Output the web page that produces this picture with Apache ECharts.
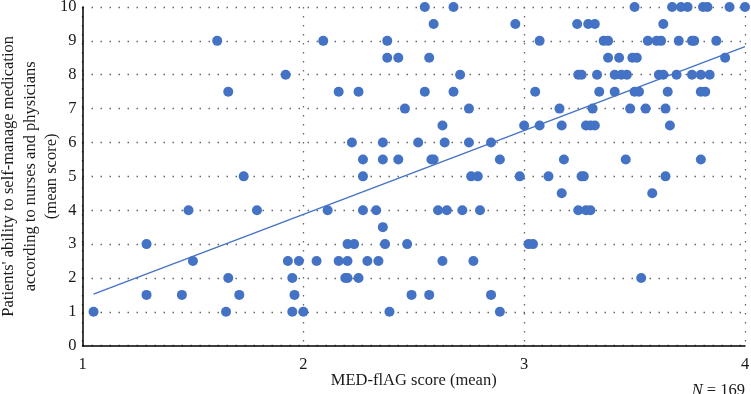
<!DOCTYPE html>
<html>
<head>
<meta charset="utf-8">
<script src="https://cdn.jsdelivr.net/npm/echarts@6/dist/echarts.min.js"></script>
<style>
html,body{margin:0;padding:0;background:#fff;}
#chart{width:751px;height:394px;}
</style>
</head>
<body>
<div id="chart"></div>
<script>
// Observations grouped by y value (mean score); x = MED-flAG score (mean)
var rowY = [10, 9.5, 9, 8.5, 8, 7.5, 7, 6.5, 6, 5.5, 5, 4.5, 4, 3.5, 3, 2.5, 2, 1.5, 1];
var rowX = [
  [2.55, 2.68, 3.50, 3.67, 3.71, 3.74, 3.81, 3.83, 3.93, 4.0],
  [2.59, 2.96, 3.24, 3.29, 3.32, 3.63],
  [1.61, 2.09, 2.38, 3.07, 3.36, 3.38, 3.56, 3.60, 3.62, 3.70, 3.76, 3.77, 3.87],
  [2.38, 2.43, 2.57, 3.38, 3.43, 3.49, 3.51, 3.91],
  [1.92, 2.71, 3.245, 3.26, 3.33, 3.41, 3.44, 3.465, 3.61, 3.63, 3.69, 3.76, 3.80, 3.84],
  [1.66, 2.16, 2.25, 2.55, 2.68, 3.05, 3.34, 3.41, 3.50, 3.52, 3.65, 3.80, 3.82],
  [2.46, 2.75, 3.16, 3.31, 3.48, 3.55, 3.64],
  [2.63, 3.00, 3.07, 3.17, 3.28, 3.30, 3.32, 3.66],
  [2.22, 2.36, 2.52, 2.64, 2.75, 2.85],
  [2.27, 2.36, 2.43, 2.58, 2.59, 2.89, 3.18, 3.46, 3.80],
  [1.73, 2.27, 2.76, 2.79, 2.98, 3.11, 3.26, 3.27, 3.64],
  [3.17, 3.58],
  [1.48, 1.79, 2.11, 2.27, 2.33, 2.61, 2.65, 2.72, 2.80, 3.245, 3.28, 3.30],
  [2.36],
  [1.29, 2.20, 2.23, 2.37, 2.47, 3.02, 3.04],
  [1.50, 1.93, 1.98, 2.06, 2.16, 2.20, 2.29, 2.34, 2.63, 2.77],
  [1.66, 1.95, 2.19, 2.20, 2.25, 3.53],
  [1.29, 1.45, 1.71, 1.96, 2.49, 2.57, 2.85],
  [1.05, 1.65, 1.95, 2.00, 2.39, 2.89]
];
// Linear trend line end points
var trendX = [1.05, 4.0];
var trendY = [1.52, 8.83];
var xTicks = [1, 2, 3, 4];
var yTicks = [0, 1, 2, 3, 4, 5, 6, 7, 8, 9, 10];
var sampleN = 169;

var points = [];
rowY.forEach(function (y, i) {
  rowX[i].forEach(function (x) { points.push([x, y]); });
});
var trend = trendX.map(function (x, i) { return [x, trendY[i]]; });

var FONT = 'Liberation Serif';
var FS = 16.5;
var TXT = '#1a1a1a';
var BLUE = '#4472C4';
var chart = echarts.init(document.getElementById('chart'), null, {renderer: 'canvas'});
chart.setOption({
  animation: false,
  grid: {left: 82.5, right: 6, top: 7, bottom: 48.3, containLabel: false, outerBoundsMode: 'none'},
  xAxis: {
    type: 'value', min: xTicks[0], max: xTicks[xTicks.length - 1], interval: 1,
    name: 'MED-flAG score (mean)', nameLocation: 'middle', nameGap: 26, nameMoveOverlap: false,
    nameTextStyle: {fontFamily: FONT, fontSize: FS, color: TXT},
    axisLine: {show: true, lineStyle: {color: '#000', width: 1.5}},
    axisTick: {show: false},
    axisLabel: {fontFamily: FONT, fontSize: FS, color: TXT, margin: 10},
    splitLine: {show: true, lineStyle: {color: '#666', width: 1.3, type: [1.5, 7.5]}}
  },
  yAxis: {
    type: 'value', min: yTicks[0], max: yTicks[yTicks.length - 1], interval: 1,
    name: "Patients' ability to self-manage medication\naccording to nurses and physicians\n(mean score)",
    nameLocation: 'middle', nameGap: 20, nameRotate: 90, nameMoveOverlap: false,
    nameTextStyle: {fontFamily: FONT, fontSize: FS, color: TXT, lineHeight: 21.5, align: 'center'},
    axisLine: {show: true, lineStyle: {color: '#000', width: 1.5}},
    axisTick: {show: false},
    axisLabel: {fontFamily: FONT, fontSize: FS, color: TXT, margin: 6},
    splitLine: {show: true, lineStyle: {color: '#666', width: 1.3, type: [1.5, 7.5]}}
  },
  graphic: [{
    type: 'text', right: 6, top: 382,
    style: {
      text: '{i|N} = ' + sampleN,
      fontFamily: FONT, fontSize: FS, fill: TXT,
      rich: {i: {fontFamily: FONT, fontSize: FS, fontStyle: 'italic', color: TXT}}
    }
  }],
  series: [{
    type: 'scatter', data: points, symbolSize: 10,
    itemStyle: {color: BLUE, opacity: 1}, z: 3
  }, {
    type: 'line', data: trend, showSymbol: false, symbol: 'none',
    lineStyle: {color: BLUE, width: 1.3}, z: 4, silent: true
  }]
});
</script>
</body>
</html>
